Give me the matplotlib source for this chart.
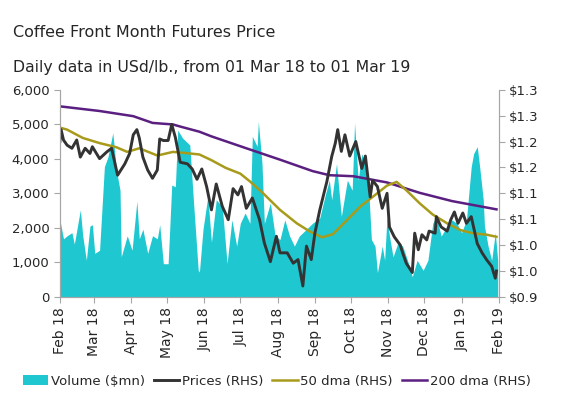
import matplotlib
matplotlib.use('Agg')
import matplotlib.pyplot as plt
import matplotlib.dates as mdates
from matplotlib.ticker import FuncFormatter
import pandas as pd

# ---- data ----
vol_dates = ['2018-02-01', '2018-02-04', '2018-02-07', '2018-02-11', '2018-02-13', '2018-02-18', '2018-02-20',
             '2018-02-23', '2018-02-26', '2018-02-28',
             '2018-03-02', '2018-03-06', '2018-03-10', '2018-03-13', '2018-03-17', '2018-03-20', '2018-03-23',
             '2018-03-24', '2018-03-29',
             '2018-04-02', '2018-04-06', '2018-04-08', '2018-04-11', '2018-04-15', '2018-04-19', '2018-04-23',
             '2018-04-25', '2018-04-28',
             '2018-05-02', '2018-05-05', '2018-05-08', '2018-05-10', '2018-05-14', '2018-05-20', '2018-05-23',
             '2018-05-27', '2018-05-28', '2018-05-31',
             '2018-06-04', '2018-06-07', '2018-06-11', '2018-06-16', '2018-06-20', '2018-06-24', '2018-06-28',
             '2018-07-01', '2018-07-05', '2018-07-09', '2018-07-11', '2018-07-15', '2018-07-16', '2018-07-19',
             '2018-07-21', '2018-07-26', '2018-07-30',
             '2018-08-03', '2018-08-07', '2018-08-11', '2018-08-15', '2018-08-19', '2018-08-25', '2018-08-30',
             '2018-09-05', '2018-09-10', '2018-09-13', '2018-09-15', '2018-09-19', '2018-09-23', '2018-09-28',
             '2018-10-02', '2018-10-04', '2018-10-07', '2018-10-10', '2018-10-13', '2018-10-15', '2018-10-18',
             '2018-10-21', '2018-10-23', '2018-10-27', '2018-10-29', '2018-10-31',
             '2018-11-02', '2018-11-05', '2018-11-09', '2018-11-13', '2018-11-17', '2018-11-21', '2018-11-25',
             '2018-11-30',
             '2018-12-04', '2018-12-08', '2018-12-11', '2018-12-15', '2018-12-20', '2018-12-24', '2018-12-28',
             '2019-01-01', '2019-01-05', '2019-01-09', '2019-01-11', '2019-01-14', '2019-01-16', '2019-01-19',
             '2019-01-20', '2019-01-23', '2019-01-26', '2019-01-29', '2019-01-31']
volume = [2230, 1680, 1770, 1860, 1530, 2520, 1770, 1060, 2050, 2090,
          1260, 1350, 3770, 4060, 4750, 3670, 3090, 1160, 1770,
          1350, 2770, 1680, 1960, 1260, 1770, 1680, 2090, 960,
          960, 3240, 3190, 4830, 4600, 4400, 2800, 770, 720, 1960,
          2910, 1580, 2810, 2620, 970, 2230, 1470,
          2130, 2430, 2130, 4650, 4360, 5080, 3880, 2130, 2720, 1760,
          1660, 2230, 1760, 1470, 1760, 1960, 2130,
          2280, 3000, 3380, 2810, 3860, 2330, 3380,
          3090, 5040, 3380, 4150, 3770, 3570, 1660, 1470, 700, 1470, 1060, 2330,
          1760, 1160, 1560, 1470, 1060, 580, 1060, 770,
          1060, 2130, 2330, 1760, 2050, 2230, 2130,
          1860, 2230, 3770, 4150, 4350, 3770, 2810, 2050, 1470, 1060, 1860, 1060]

price_dates = ['2018-02-01', '2018-02-02', '2018-02-04', '2018-02-07', '2018-02-11', '2018-02-15', '2018-02-18',
               '2018-02-22', '2018-02-26', '2018-02-28',
               '2018-03-06', '2018-03-12', '2018-03-16', '2018-03-20', '2018-03-21', '2018-03-27', '2018-03-31',
               '2018-04-03', '2018-04-06', '2018-04-08', '2018-04-11', '2018-04-15', '2018-04-19', '2018-04-23',
               '2018-04-25', '2018-04-28',
               '2018-05-02', '2018-05-05', '2018-05-08', '2018-05-12', '2018-05-18', '2018-05-22', '2018-05-26',
               '2018-05-30',
               '2018-06-03', '2018-06-07', '2018-06-11', '2018-06-16', '2018-06-21', '2018-06-25', '2018-06-29',
               '2018-07-02', '2018-07-06', '2018-07-11', '2018-07-17', '2018-07-21', '2018-07-26', '2018-07-31',
               '2018-08-03', '2018-08-09', '2018-08-14', '2018-08-18', '2018-08-22', '2018-08-25', '2018-08-29',
               '2018-09-01', '2018-09-05', '2018-09-11', '2018-09-15', '2018-09-18', '2018-09-20', '2018-09-23',
               '2018-09-26', '2018-09-30',
               '2018-10-05', '2018-10-10', '2018-10-13', '2018-10-17', '2018-10-19', '2018-10-23', '2018-10-27',
               '2018-10-31',
               '2018-11-02', '2018-11-06', '2018-11-11', '2018-11-13', '2018-11-16', '2018-11-21', '2018-11-23',
               '2018-11-26', '2018-11-29',
               '2018-12-03', '2018-12-05', '2018-12-10', '2018-12-11', '2018-12-15', '2018-12-20', '2018-12-23',
               '2018-12-26', '2018-12-29',
               '2019-01-02', '2019-01-05', '2019-01-09', '2019-01-14', '2019-01-18', '2019-01-22', '2019-01-26',
               '2019-01-29', '2019-01-30']
prices = [1.200, 1.223, 1.203, 1.193, 1.187, 1.203, 1.170, 1.187, 1.177, 1.190,
          1.167, 1.180, 1.187, 1.145, 1.135, 1.157, 1.177,
          1.213, 1.223, 1.207, 1.170, 1.145, 1.129, 1.145, 1.205, 1.202,
          1.202, 1.233, 1.208, 1.160, 1.157, 1.147, 1.127, 1.147,
          1.113, 1.068, 1.118, 1.075, 1.049, 1.109, 1.097,
          1.113, 1.071, 1.091, 1.049, 1.004, 0.968, 1.017,
          0.985, 0.985, 0.965, 0.972, 0.921, 0.998, 0.972,
          1.023, 1.067, 1.123, 1.171, 1.197, 1.223, 1.181, 1.213, 1.172,
          1.200, 1.148, 1.172, 1.093, 1.125, 1.113, 1.071, 1.100,
          1.035, 1.016, 1.000, 0.985, 0.965, 0.947, 1.023, 0.991, 1.020,
          1.010, 1.027, 1.023, 1.055, 1.035, 1.027, 1.049, 1.064, 1.042,
          1.062, 1.042, 1.055, 1.003, 0.985, 0.971, 0.959, 0.936, 0.950]

dma50_dates = ['2018-02-01', '2018-02-07', '2018-02-20', '2018-03-06', '2018-03-20', '2018-03-29', '2018-04-08',
               '2018-04-23', '2018-05-06', '2018-05-20', '2018-05-28', '2018-06-07', '2018-06-19', '2018-07-01',
               '2018-07-09', '2018-07-20', '2018-08-03', '2018-08-17', '2018-08-28', '2018-09-07', '2018-09-16',
               '2018-09-28', '2018-10-09', '2018-10-19', '2018-10-31', '2018-11-08', '2018-11-16', '2018-11-27',
               '2018-12-08', '2018-12-20', '2018-12-31', '2019-01-10', '2019-01-22', '2019-01-30']
dma50 = [1.227, 1.223, 1.207, 1.197, 1.189, 1.180, 1.187, 1.173, 1.180, 1.177,
         1.175, 1.164, 1.149, 1.138, 1.123, 1.100, 1.068, 1.042, 1.026, 1.015,
         1.021, 1.049, 1.075, 1.093, 1.115, 1.122, 1.106, 1.081, 1.059, 1.042,
         1.029, 1.023, 1.020, 1.016]

dma200_dates = ['2018-02-01', '2018-03-06', '2018-04-03', '2018-04-19', '2018-05-06', '2018-05-12', '2018-05-28',
                '2018-06-07', '2018-07-06', '2018-08-03', '2018-08-30', '2018-09-13', '2018-10-03', '2018-10-31',
                '2018-11-27', '2018-12-24', '2019-01-30']
dma200 = [1.268, 1.259, 1.249, 1.236, 1.233, 1.229, 1.219, 1.210, 1.187, 1.165,
          1.143, 1.135, 1.133, 1.121, 1.101, 1.085, 1.069]

rhs_ticks = [0.90, 0.95, 1.00, 1.05, 1.10, 1.15, 1.20, 1.25, 1.30]
rhs_labels = [r'\$0.9', r'\$1.0', r'\$1.0', r'\$1.1', r'\$1.1', r'\$1.2', r'\$1.2', r'\$1.3', r'\$1.3']

CYAN = '#1fc7d0'
DARK = '#333333'
OLIVE = '#a89b1c'
PURPLE = '#5a1f80'
GRID = '#a6a6a6'
TXT = '#262626'

fig = plt.figure(figsize=(5.65, 3.99), dpi=100)
ax = fig.add_axes([0.106, 0.256, 0.777, 0.519])

ax.fill_between(pd.to_datetime(vol_dates), volume, color=CYAN, lw=0, label=r'Volume (\$mn)')
ax.set_ylim(0, 6000)
ax.set_yticks(range(0, 6001, 1000))
ax.yaxis.set_major_formatter(FuncFormatter(lambda v, p: f'{v:,.0f}'))
ax.set_xlim(pd.Timestamp('2018-02-01'), pd.Timestamp('2019-02-01'))
ax.xaxis.set_major_locator(mdates.MonthLocator())
ax.xaxis.set_major_formatter(mdates.DateFormatter('%b %y'))

ax2 = ax.twinx()
ax2.plot(pd.to_datetime(dma200_dates), dma200, color=PURPLE, lw=1.8, label='200 dma (RHS)')
ax2.plot(pd.to_datetime(dma50_dates), dma50, color=OLIVE, lw=1.8, label='50 dma (RHS)')
ax2.plot(pd.to_datetime(price_dates), prices, color=DARK, lw=2.1, label='Prices (RHS)')
ax2.set_ylim(0.9, 1.3)
ax2.set_yticks(rhs_ticks)
ax2.set_yticklabels(rhs_labels)

for a in (ax, ax2):
    for s in a.spines.values():
        s.set_color(GRID)
    a.spines['top'].set_visible(False)
    a.tick_params(colors=GRID, labelcolor=TXT, labelsize=9.5, length=4, width=0.8)
ax.tick_params(axis='x', labelsize=10)
plt.setp(ax.get_xticklabels(), rotation=90)

fig.text(0.023, 0.918, 'Coffee Front Month Futures Price', fontsize=11.5, color=TXT, va='center')
fig.text(0.023, 0.832, 'Daily data in USd/lb., from 01 Mar 18 to 01 Mar 19', fontsize=11.3, color=TXT,
         va='center')

h1, l1 = ax.get_legend_handles_labels()
h2, l2 = ax2.get_legend_handles_labels()
order = [2, 1, 0]
handles = h1 + [h2[i] for i in order]
labels = l1 + [l2[i] for i in order]
fig.legend(handles, labels, loc='center', bbox_to_anchor=(0.49, 0.045), ncol=4, frameon=False,
           fontsize=9.5, handlelength=1.9, handletextpad=0.2, columnspacing=0.7, labelcolor=TXT)

plt.savefig('out.png', dpi=100)
